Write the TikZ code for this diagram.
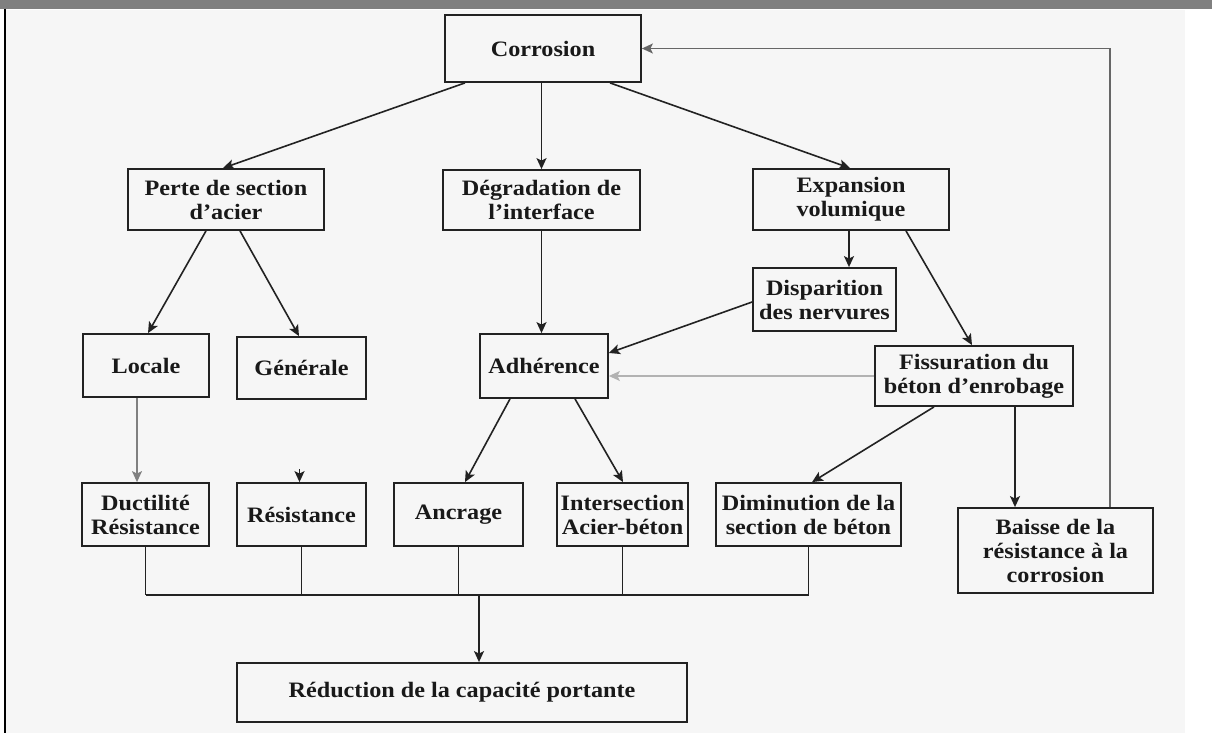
\documentclass[tikz,border=0pt]{standalone}
\usepackage{fontspec}
\setmainfont{Liberation Serif}[FakeStretch=1.1]
\usetikzlibrary{arrows.meta}
\definecolor{bgcol}{HTML}{F6F6F6}
\definecolor{barcol}{HTML}{808080}
\definecolor{linecol}{HTML}{222222}
\tikzset{
	box/.style={draw=linecol, line width=1.8pt, fill=bgcol, align=center, inner sep=2pt,
		font=\fontsize{22}{24}\selectfont\bfseries, text=black!90},
	link/.style={draw=linecol, line width=1.6pt},
	arr/.style={link, -{Stealth[length=11pt,width=10pt,inset=2.5pt]}},
}
\begin{document}
\begin{tikzpicture}[x=1pt, y=1pt]
				\useasboundingbox (0,0) rectangle (1212,-733);
				\fill[white] (0,0) rectangle (1212,-733);
				\fill[bgcol] (5,-10) rectangle (1185,-733);
				\fill[barcol] (0,0) rectangle (1212,-9);
				\draw[black, line width=2pt] (5,-9) -- (5,-733);
				
				\node[box, minimum width=196pt, minimum height=67pt] (corr) at (543,-48.5) {Corrosion};
				
				\node[box, minimum width=196pt, minimum height=61pt] (perte) at (226,-199.5) {Perte de section\\d'acier};
				\node[box, minimum width=197pt, minimum height=60pt] (degr) at (541.5,-200) {Dégradation de\\l'interface};
				\node[box, minimum width=196pt, minimum height=61pt] (expa) at (851,-199.5) {Expansion\\volumique};
				
				\node[box, minimum width=143pt, minimum height=63pt] (disp) at (824.5,-299.5) {Disparition\\des nervures};
				
				\node[box, minimum width=126pt, minimum height=63pt] (loc) at (146,-365.5) {Locale};
				\node[box, minimum width=129pt, minimum height=62pt] (gen) at (301.5,-368) {Générale};
				\node[box, minimum width=128pt, minimum height=64pt] (adh) at (544,-366) {Adhérence};
				\node[box, minimum width=198pt, minimum height=60pt] (fiss) at (974,-376) {Fissuration du\\béton d'enrobage};
				
				\node[box, minimum width=127pt, minimum height=63pt] (duct) at (145.5,-514.5) {Ductilité\\Résistance};
				\node[box, minimum width=129pt, minimum height=63pt] (resi) at (301.5,-514.5) {Résistance};
				\node[box, minimum width=129pt, minimum height=63pt] (ancr) at (458.5,-514.5) {Ancrage};
				\node[box, minimum width=131pt, minimum height=63pt] (inter) at (622.5,-514.5) {Intersection\\Acier-béton};
				\node[box, minimum width=185pt, minimum height=63pt] (dimi) at (808.5,-514.5) {Diminution de la\\section de béton};
				\node[box, minimum width=195pt, minimum height=85pt] (baisse) at (1055.5,-550.5) {Baisse de la\\résistance à la\\corrosion};
				
				\node[box, minimum width=450pt, minimum height=59pt] (redu) at (462,-692.5) {Réduction de la capacité portante};
				
				\draw[arr] ([xshift=-78pt]corr.south) -- ([xshift=-3pt]perte.north);
				\draw[arr] (degr.north |- corr.south) -- (degr.north);
				\draw[arr] ([xshift=67pt]corr.south) -- ([xshift=-1pt]expa.north);
				
				\draw[arr] ([xshift=-20pt]perte.south) -- ([xshift=2pt]loc.north);
				\draw[arr] ([xshift=14pt]perte.south) -- ([xshift=-2.5pt]gen.north);
				\draw[arr] (degr.south) -- (degr.south |- adh.north);
				\draw[arr] ([xshift=-2pt]expa.south) -- ([xshift=-2pt]expa.south |- disp.north);
				\draw[arr] ([xshift=55pt]expa.south) -- ([xshift=-2pt]fiss.north);
				
				\draw[arr] ([yshift=-2.5pt]disp.west) -- ([yshift=13pt]adh.east);
				\draw[arr, draw=black!30, line width=1.2pt] (fiss.west) -- (fiss.west -| adh.east);
				
				\draw[arr, draw=black!50, line width=1.2pt] ([xshift=-9pt]loc.south) -- ([xshift=-9pt]loc.south |- duct.north);
				\coordinate (resitop) at (299.5,-469);
				\draw[arr] (resitop) -- (resitop |- resi.north);
				\draw[arr] ([xshift=-34pt]adh.south) -- ([xshift=6.5pt]ancr.north);
				\draw[arr] ([xshift=31pt]adh.south) -- ([xshift=0.5pt]inter.north);
				\draw[arr] ([xshift=-40pt]fiss.south) -- ([xshift=3.5pt]dimi.north);
				\draw[arr] ([xshift=41pt]fiss.south) -- ([xshift=41pt]fiss.south |- baisse.north);
				
				\draw[arr, draw=black!60] ([xshift=54.5pt]baisse.north) |- (corr.east);
				
				\coordinate (bus) at (0,-595);
				\foreach \n in {duct,resi,ancr,inter,dimi}
					\draw[link] (\n.south) -- (\n.south |- bus);
				\draw[link] (duct.south |- bus) -- (dimi.south |- bus);
				\coordinate (busmid) at (479,-595);
				\draw[arr] (busmid) -- (busmid |- redu.north);
			\end{tikzpicture}
\end{document}
